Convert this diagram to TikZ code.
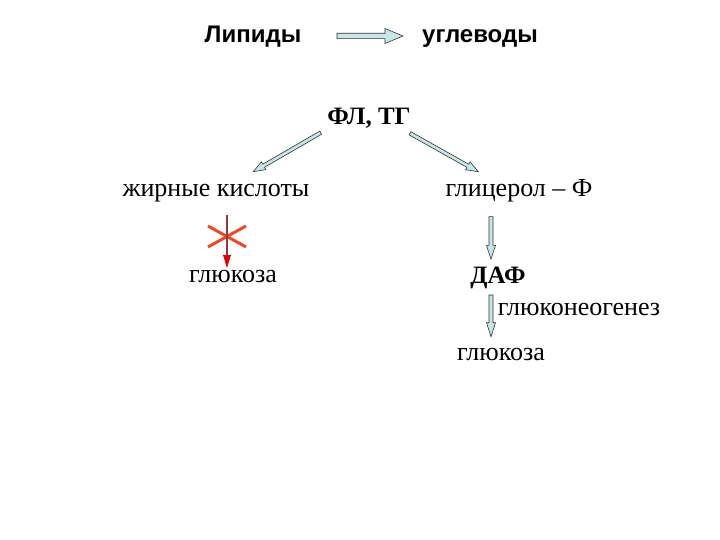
\documentclass[tikz,border=0pt]{standalone}
\usepackage{fontspec}
\setmainfont{Liberation Serif}
\newfontfamily\arialfont{Liberation Sans}
\usetikzlibrary{calc}
\definecolor{arrfill}{HTML}{C8E6E6}
\definecolor{crossred}{HTML}{E84A2A}
\definecolor{darkshaft}{HTML}{8E3A3A}
\tikzset{
  sanslabel/.style={inner sep=0pt, anchor=base, font=\arialfont\bfseries\fontsize{24}{28}\selectfont},
  seriflabel/.style={inner sep=0pt, anchor=base, font=\fontsize{26}{30}\selectfont},
  serifbold/.style={inner sep=0pt, anchor=base, font=\bfseries\fontsize{25}{30}\selectfont},
  blockarr/.style={draw=black!80, fill=arrfill, line width=0.6pt, line join=miter}
}
% #1 from, #2 to, #3 shaft half width, #4 head half width, #5 head length, #6 style
\newcommand\myblockarrow[6]{%
  \coordinate (hb) at ($(#2)!#5!(#1)$);
  \path[#6] ($(#1)!#3!90:(#2)$) -- ($(hb)!#3!90:(#2)$) -- ($(hb)!#4!90:(#2)$) -- (#2)
     -- ($(hb)!#4!-90:(#2)$) -- ($(hb)!#3!-90:(#2)$) -- ($(#1)!#3!-90:(#2)$) -- cycle;
}
\begin{document}
\begin{tikzpicture}[x=1pt,y=-1pt]
\useasboundingbox (0,0) rectangle (720,540);
% labels
\node[sanslabel] (lip) at (253,43) {Липиды};
\node[sanslabel] (ugl) at (480,43) {углеводы};
\node[serifbold] (fltg) at (369,125) {ФЛ, ТГ};
\node[seriflabel] (fa) at (216,196.5) {жирные кислоты};
\node[seriflabel] (glf) at (519,196.5) {глицерол – Ф};
\node[seriflabel] (glu1) at (233,282) {глюкоза};
\node[serifbold] (daf) at (498,283) {ДАФ};
\node[seriflabel] (gng) at (579,315) {глюконеогенез};
\node[seriflabel] (glu2) at (501,360) {глюкоза};
% arrow end points
\coordinate (a1s) at (337,36);
\coordinate (a1e) at (403,36);
\coordinate (a2s) at (320.7,132.7);
\coordinate (a2e) at (253.3,171.7);
\coordinate (a3s) at (410,133.3);
\coordinate (a3e) at (478.3,171.7);
\coordinate (a4s) at (491,216.7);
\coordinate (a4e) at (491,259.3);
\coordinate (a5s) at (491,295);
\coordinate (a5e) at (491,336.7);
\coordinate (a6s) at (227,215);
\coordinate (a6e) at (227,268);
% arrows
\myblockarrow{a1s}{a1e}{2.7pt}{7.5pt}{18pt}{blockarr}
\myblockarrow{a2s}{a2e}{1.8pt}{4.5pt}{12pt}{blockarr}
\myblockarrow{a3s}{a3e}{1.8pt}{4.5pt}{12pt}{blockarr}
\myblockarrow{a4s}{a4e}{2pt}{4.5pt}{14pt}{blockarr}
\myblockarrow{a5s}{a5e}{2pt}{4.5pt}{14pt}{blockarr}
% crossed arrow
\coordinate (x1) at (208,226);
\coordinate (x2) at (246,247);
\coordinate (x3) at (208,247);
\coordinate (x4) at (246,226);
\draw[crossred, line width=3pt] (x1) -- (x2);
\draw[crossred, line width=3pt] (x3) -- (x4);
\coordinate (a6h) at (227,255);
\draw[darkshaft, line width=2.5pt] (a6s) -- (a6h);
\fill[red!85!black] ($(a6h)+(-4,0)$) -- (a6e) -- ($(a6h)+(4,0)$) -- cycle;
\end{tikzpicture}
\end{document}
